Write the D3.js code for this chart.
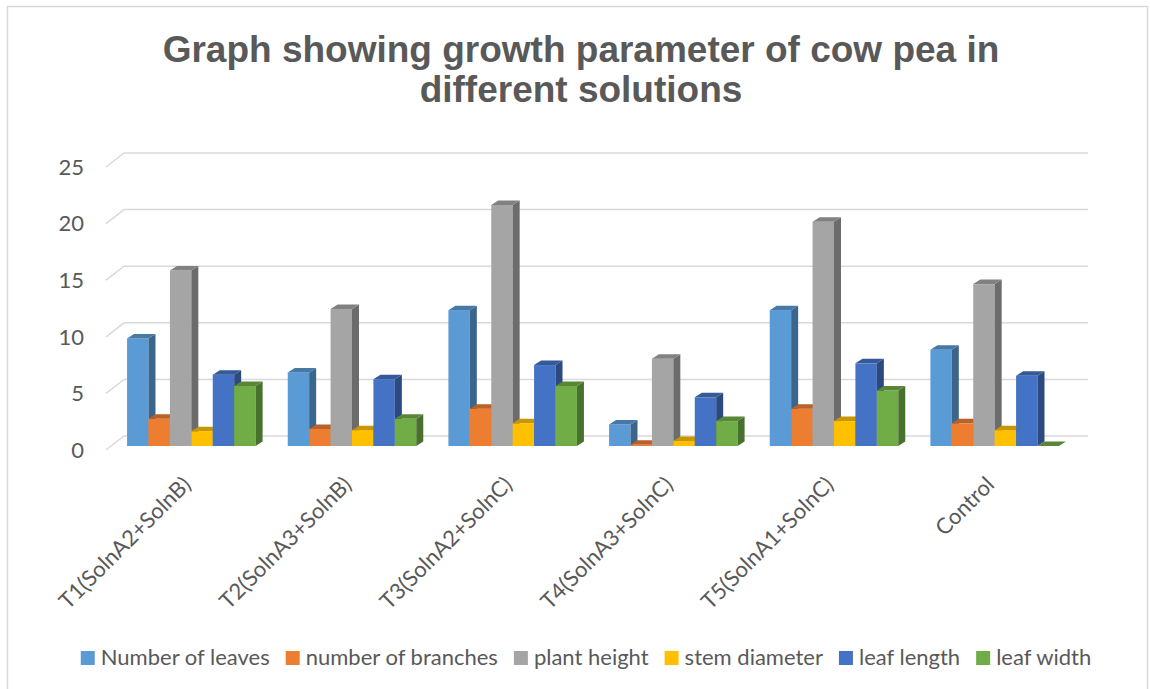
<!doctype html>
<html>
<head>
<meta charset="utf-8">
<title>Cow pea growth</title>
<script src="https://cdn.jsdelivr.net/npm/d3@7"></script>
<style>
    html, body { margin: 0; padding: 0; background: #fff; }
    svg text { fill: #595959; }
</style>
</head>
<body>
<svg id="chart" width="1150" height="689"></svg>
<script>
// chart data
var categories = ['T1(SolnA2+SolnB)', 'T2(SolnA3+SolnB)', 'T3(SolnA2+SolnC)', 'T4(SolnA3+SolnC)', 'T5(SolnA1+SolnC)', 'Control'];
var seriesNames = ['Number of leaves', 'number of branches', 'plant height', 'stem diameter', 'leaf length', 'leaf width'];
var numberOfLeaves = [9.5, 6.5, 12.0, 1.9, 12.0, 8.5];
var numberOfBranches = [2.4, 1.5, 3.3, 0.1, 3.3, 2.0];
var plantHeight = [15.5, 12.1, 21.3, 7.7, 19.8, 14.3];
var stemDiameter = [1.3, 1.4, 2.0, 0.45, 2.2, 1.4];
var leafLength = [6.3, 5.9, 7.15, 4.3, 7.3, 6.2];
var leafWidth = [5.3, 2.4, 5.3, 2.2, 4.9, 0];
var yTicks = [0, 5, 10, 15, 20, 25];
var colors = ['#5B9BD5', '#ED7D31', '#A5A5A5', '#FFC000', '#4472C4', '#70AD47'];

var seriesValues = [numberOfLeaves, numberOfBranches, plantHeight, stemDiameter, leafLength, leafWidth];

var svg = d3.select('#chart');
var font = 'Lato, "Open Sans", sans-serif';
var fontSize = '22px';

// outer border
svg.append('rect')
    .attr('x', 7.5).attr('y', 6.5)
    .attr('width', 1140).attr('height', 690)
    .attr('fill', 'none')
    .attr('stroke', '#d9d9d9')
    .attr('stroke-width', 1.5);

// title
var title = svg.append('text')
    .attr('text-anchor', 'middle')
    .style('font-family', '"Liberation Sans", Arial, sans-serif')
    .style('font-weight', 'bold')
    .style('font-size', '37px');
title.append('tspan').attr('x', 581).attr('y', 62).text('Graph showing growth parameter of cow pea in');
title.append('tspan').attr('x', 581).attr('y', 102).text('different solutions');

// 3d offsets
var depth = {dx: 7, dy: -4.5};      // bar depth
var wall = {dx: 13, dy: -10};       // bar front plane -> back wall
var front = {dx: -5, dy: 4};        // bar front plane -> floor front edge

var x = d3.scaleBand().domain(categories).range([111, 1075]);
var xs = d3.scaleBand().domain(seriesNames).range([0, x.bandwidth()]).paddingOuter(0.75);
var y = d3.scaleLinear().domain([0, 25]).range([446, 163]);

// gridlines on back wall + left wall diagonals
var grid = svg.append('g');
yTicks.forEach(function(t) {
    var yb = y(t) + wall.dy;
    var x0 = x.range()[0] + wall.dx;
    var x1 = x.range()[1] + wall.dx;
    grid.append('path')
        .attr('d', 'M' + (x0 + front.dx - wall.dx) + ',' + (y(t) + front.dy) + 'L' + x0 + ',' + yb + 'L' + x1 + ',' + yb)
        .attr('fill', 'none')
        .attr('stroke', '#d9d9d9')
        .attr('stroke-width', 1.5);
});

// y labels
svg.append('g').selectAll('text')
    .data(yTicks)
    .enter().append('text')
    .attr('x', 84)
    .attr('y', function(d) { return y(d) + front.dy; })
    .attr('dy', '0.35em')
    .attr('text-anchor', 'end')
    .style('font-family', font)
    .style('font-size', fontSize)
    .text(function(d) { return d; });

// bars
var bw = xs.bandwidth();
categories.forEach(function(cat, ci) {
    var g = svg.append('g');
    seriesNames.forEach(function(name, si) {
        var v = seriesValues[si][ci];
        var c = d3.color(colors[si]);
        var bx = x(cat) + xs(name);
        var top = y(v), base = y(0);
        if (v > 0) {
            g.append('rect')
                .attr('x', bx).attr('y', top)
                .attr('width', bw).attr('height', base - top)
                .attr('fill', c.formatHex());
            g.append('path')
                .attr('d', 'M' + (bx + bw) + ',' + top + 'l' + depth.dx + ',' + depth.dy +
                    'L' + (bx + bw + depth.dx) + ',' + (base + depth.dy) + 'L' + (bx + bw) + ',' + base + 'Z')
                .attr('fill', c.darker(1.2).formatHex());
        }
        g.append('path')
            .attr('d', 'M' + bx + ',' + top + 'L' + (bx + bw) + ',' + top +
                'l' + depth.dx + ',' + depth.dy + 'L' + (bx + depth.dx) + ',' + (top + depth.dy) + 'Z')
            .attr('fill', c.darker(0.7).formatHex());
    });
});

// category labels
svg.append('g').selectAll('text')
    .data(categories)
    .enter().append('text')
    .attr('transform', function(d) {
        return 'translate(' + (x(d) + x.bandwidth() / 2 + 1) + ',486) rotate(-45)';
    })
    .attr('text-anchor', 'end')
    .style('font-family', font)
    .style('font-size', fontSize)
    .text(function(d) { return d; });

// legend
var legend = svg.append('g');
var lx = 0;
seriesNames.forEach(function(name, i) {
    var item = legend.append('g').attr('transform', 'translate(' + lx + ',0)');
    item.append('rect')
        .attr('x', 0).attr('y', 651)
        .attr('width', 14).attr('height', 14)
        .attr('fill', colors[i]);
    var t = item.append('text')
        .attr('x', 20).attr('y', 665)
        .style('font-family', font)
        .style('font-size', fontSize)
        .text(name);
    lx += 20 + t.node().getComputedTextLength() + 16;
});
lx -= 16;
legend.attr('transform', 'translate(' + (586 - lx / 2) + ',0)');
</script>
</body>
</html>
